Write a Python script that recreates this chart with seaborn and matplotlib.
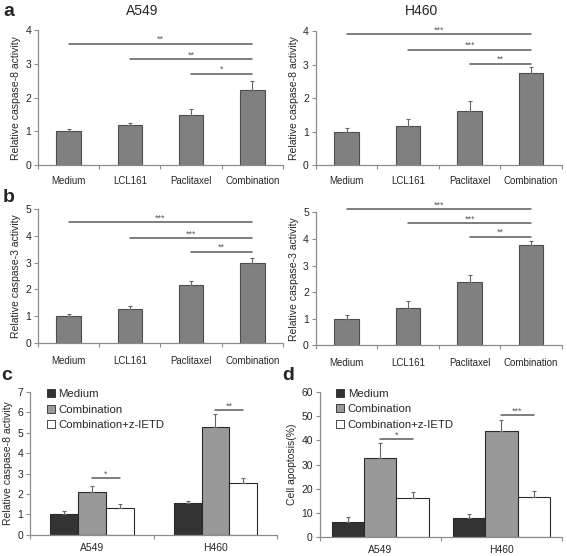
import numpy as np
import pandas as pd
import matplotlib
matplotlib.use("Agg")
import matplotlib.pyplot as plt
import seaborn as sns

# ---- data ----
treatments = ["Medium", "LCL161", "Paclitaxel", "Combination"]

a549_casp8 = [1.0, 1.2, 1.48, 2.22]
a549_casp8_err = [0.07, 0.05, 0.18, 0.28]
h460_casp8 = [1.0, 1.18, 1.61, 2.76]
h460_casp8_err = [0.12, 0.2, 0.29, 0.18]
a549_casp3 = [1.0, 1.27, 2.15, 2.99]
a549_casp3_err = [0.09, 0.11, 0.15, 0.18]
h460_casp3 = [1.0, 1.39, 2.39, 3.79]
h460_casp3_err = [0.14, 0.29, 0.26, 0.14]

# significance bars (start treatment, height, stars); all end at Combination
a549_casp8_sig = [(0, 3.6, "**"), (1, 3.15, "**"), (2, 2.71, "*")]
h460_casp8_sig = [(0, 3.9, "***"), (1, 3.45, "***"), (2, 3.03, "**")]
a549_casp3_sig = [(0, 4.5, "***"), (1, 3.93, "***"), (2, 3.41, "**")]
h460_casp3_sig = [(0, 5.12, "***"), (1, 4.59, "***"), (2, 4.09, "**")]

cell_lines = ["A549", "H460"]
groups_cd = ["Medium", "Combination", "Combination+z-IETD"]

c_medium = [1.0, 1.55]
c_medium_err = [0.15, 0.1]
c_comb = [2.1, 5.3]
c_comb_err = [0.27, 0.6]
c_ietd = [1.33, 2.55]
c_ietd_err = [0.2, 0.22]
c_sig = [(2.8, "*"), (6.1, "**")]

d_medium = [6.2, 7.7]
d_medium_err = [2.3, 1.7]
d_comb = [32.8, 44.0]
d_comb_err = [6.2, 4.6]
d_ietd = [16.3, 16.7]
d_ietd_err = [2.5, 2.4]
d_sig = [(40.6, "*"), (50.3, "***")]

sns.set_theme(style="ticks")
plt.rcParams["font.family"] = ["Liberation Sans", "DejaVu Sans"]

SPINE = "#8c8c8c"
LINE = "#5a5a5a"


def style_axes(ax, n, ymax, step, ylabel, xpad):
    ax.set_xlim(-0.5, n - 0.5)
    ax.set_ylim(0, ymax)
    ax.set_yticks(np.arange(0, ymax + step / 2, step))
    ax.set_xticks(np.arange(-0.5, n), minor=True)
    ax.tick_params(axis="x", which="major", length=0, pad=xpad, labelsize=7)
    ax.tick_params(axis="x", which="minor", length=3, color=SPINE, width=0.8)
    ax.tick_params(axis="y", length=3, color=SPINE, width=0.8, labelsize=7.5, pad=2)
    sns.despine(ax=ax)
    for s in ["left", "bottom"]:
        ax.spines[s].set_color(SPINE)
        ax.spines[s].set_linewidth(0.9)
    ax.set_xlabel("")
    ax.set_ylabel(ylabel, fontsize=7.5, labelpad=3)


def four_bar(ax, vals, errs, sig, ymax, ylabel, xpad):
    df = pd.DataFrame({"treatment": treatments, "value": vals})
    sns.barplot(data=df, x="treatment", y="value", color="#808080", saturation=1,
                edgecolor="#4d4d4d", linewidth=0.8, width=0.4, errorbar=None, ax=ax)
    xs = [p.get_x() + p.get_width() / 2 for p in ax.containers[0]]
    ax.errorbar(xs, vals, yerr=[np.zeros(len(errs)), errs], fmt="none",
                ecolor="#666666", elinewidth=0.8, capsize=1.5, capthick=0.8)
    for start, h, lab in sig:
        ax.plot([xs[start], xs[-1]], [h, h], color=LINE, lw=1.1, clip_on=False)
        ax.text((xs[start] + xs[-1]) / 2, h - ymax * 0.004, lab, ha="center",
                va="bottom", fontsize=6.5, color=LINE)
    style_axes(ax, len(treatments), ymax, 1, ylabel, xpad)


def three_bar(ax, series, errs, sig, ymax, step, ylabel, width, legend_x):
    df = pd.DataFrame({
        "cell": cell_lines * len(groups_cd),
        "treatment": np.repeat(groups_cd, len(cell_lines)),
        "value": np.concatenate(series),
    })
    sns.barplot(data=df, x="cell", y="value", hue="treatment", hue_order=groups_cd,
                palette=["#333333", "#999999", "#ffffff"], saturation=1,
                edgecolor="#2a2a2a", linewidth=0.8, width=width, errorbar=None, ax=ax)
    centers = []
    for cont, vals, err in zip(ax.containers, series, errs):
        xs = [p.get_x() + p.get_width() / 2 for p in cont]
        centers.append(xs)
        ax.errorbar(xs, vals, yerr=[np.zeros(len(err)), err], fmt="none",
                    ecolor="#666666", elinewidth=0.8, capsize=1.5, capthick=0.8)
    for i, (h, lab) in enumerate(sig):
        x0, x1 = centers[1][i], centers[2][i]
        ax.plot([x0, x1], [h, h], color=LINE, lw=1.1, clip_on=False)
        ax.text((x0 + x1) / 2, h - ymax * 0.004, lab, ha="center", va="bottom",
                fontsize=6.5, color=LINE)
    style_axes(ax, len(cell_lines), ymax, step, ylabel, 5.5)
    ax.tick_params(axis="x", which="major", labelsize=7.5)
    ax.legend(loc="upper left", bbox_to_anchor=(legend_x, 1.05), frameon=False,
              fontsize=8.2, handlelength=0.7, handleheight=0.7,
              handletextpad=0.3, labelspacing=0.45, borderaxespad=0)
    for h in ax.get_legend().legend_handles:
        h.set_edgecolor("#2a2a2a")
        h.set_linewidth(0.6)


fig = plt.figure(figsize=(5.67, 5.56), dpi=100)
ax_a1 = fig.add_axes([0.067, 0.703, 0.432, 0.243])
ax_a2 = fig.add_axes([0.557, 0.703, 0.434, 0.241])
ax_b1 = fig.add_axes([0.067, 0.383, 0.432, 0.241])
ax_b2 = fig.add_axes([0.557, 0.379, 0.434, 0.239])
ax_c = fig.add_axes([0.053, 0.038, 0.436, 0.257])
ax_d = fig.add_axes([0.564, 0.034, 0.427, 0.261])

four_bar(ax_a1, a549_casp8, a549_casp8_err, a549_casp8_sig, 4, "Relative caspase-8 activity", 8)
four_bar(ax_a2, h460_casp8, h460_casp8_err, h460_casp8_sig, 4, "Relative caspase-8 activity", 8)
four_bar(ax_b1, a549_casp3, a549_casp3_err, a549_casp3_sig, 5, "Relative caspase-3 activity", 9)
four_bar(ax_b2, h460_casp3, h460_casp3_err, h460_casp3_sig, 5, "Relative caspase-3 activity", 9)

three_bar(ax_c, [c_medium, c_comb, c_ietd], [c_medium_err, c_comb_err, c_ietd_err],
          c_sig, 7, 1, "Relative caspase-8 activity", 0.675, 0.05)
three_bar(ax_d, [d_medium, d_comb, d_ietd], [d_medium_err, d_comb_err, d_ietd_err],
          d_sig, 60, 10, "Cell apoptosis(%)", 0.8, 0.05)

fig.text(142 / 567, 1 - 11 / 556, "A549", ha="center", va="center", fontsize=10)
fig.text(421 / 567, 1 - 11 / 556, "H460", ha="center", va="center", fontsize=10)
for x, y, lab in [(3, 12, "a"), (3, 197, "b"), (1, 375, "c"), (282, 376, "d")]:
    fig.text(x / 567, 1 - y / 556, lab, ha="left", va="center", fontsize=14,
             fontweight="bold")

fig.savefig("out.png", dpi=100)
